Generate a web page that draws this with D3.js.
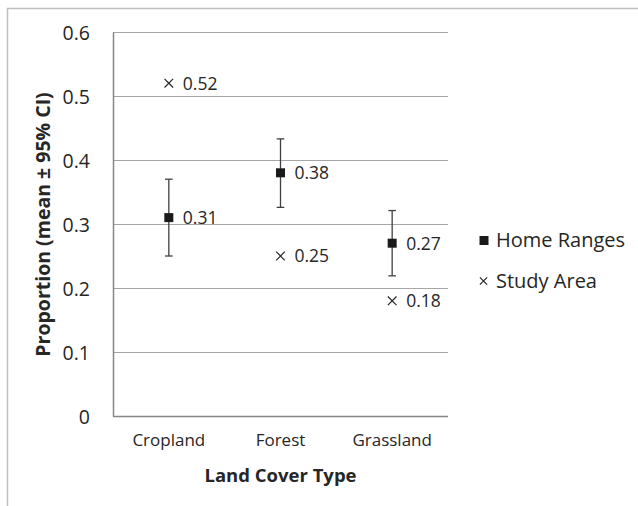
<!DOCTYPE html>
<html><head><meta charset="utf-8">
<script src="https://cdn.jsdelivr.net/npm/d3@7"></script>
<style>body{margin:0;background:#fff}svg{display:block}text{font-family:"Open Sans",Lato,sans-serif}</style>
</head><body>
<svg id="c" width="638" height="506"></svg>
<script>
const categories = ["Cropland", "Forest", "Grassland"];
const homeMean = [0.31, 0.38, 0.27];
const homeLow = [0.25, 0.326, 0.219];
const homeHigh = [0.37, 0.433, 0.321];
const studyArea = [0.52, 0.25, 0.18];
const yTicks = [0, 0.1, 0.2, 0.3, 0.4, 0.5, 0.6];
const legendLabels = ["Home Ranges", "Study Area"];

const svg = d3.select("#c");
const M = {l: 113, r: 448, t: 32, b: 416};
const x = d3.scaleBand().domain(categories).range([M.l, M.r]);
const y = d3.scaleLinear().domain([0, 0.6]).range([M.b, M.t]);
const txt = "#262626";

// outer border
svg.append("rect").attr("x", 7.5).attr("y", 8.5).attr("width", 700).attr("height", 600)
  .attr("fill", "none").attr("stroke", "#bfbfbf").attr("stroke-width", 1.5);

// gridlines
svg.append("g").selectAll("line").data(yTicks.filter(d => d > 0)).join("line")
  .attr("x1", M.l).attr("x2", M.r).attr("y1", d => Math.round(y(d)) + 0.5).attr("y2", d => Math.round(y(d)) + 0.5)
  .attr("stroke", "#a6a6a6").attr("stroke-width", 1.2);

// axes via d3
const yAxis = svg.append("g").attr("transform", `translate(${M.l},0)`)
  .call(d3.axisLeft(y).tickValues(yTicks).tickSize(0).tickPadding(23).tickFormat(d => d === 0 ? "0" : d3.format(".1f")(d)));
yAxis.select(".domain").attr("stroke", "#868686").attr("stroke-width", 1.5);
yAxis.selectAll("text").attr("font-size", 19.5).attr("fill", txt).attr("dy", "0.36em");

const xAxis = svg.append("g").attr("transform", `translate(0,${M.b})`)
  .call(d3.axisBottom(x).tickSize(0).tickPadding(18));
xAxis.select(".domain").attr("stroke", "#868686").attr("stroke-width", 1.5).attr("d", `M${M.l},0.5H${M.r}`);
xAxis.selectAll("text").attr("font-size", 17).attr("fill", txt).attr("dy", "0.71em");

// error bars
const cx = i => x(categories[i]) + x.bandwidth() / 2;
const eb = svg.append("g").attr("stroke", "#404040").attr("stroke-width", 1.3);
homeMean.forEach((m, i) => {
  eb.append("line").attr("x1", cx(i)).attr("x2", cx(i)).attr("y1", y(homeLow[i])).attr("y2", y(homeHigh[i]));
  [homeLow[i], homeHigh[i]].forEach(v => eb.append("line").attr("x1", cx(i) - 3.8).attr("x2", cx(i) + 3.8).attr("y1", y(v)).attr("y2", y(v)));
});

// home range squares
svg.append("g").selectAll("rect").data(homeMean).join("rect")
  .attr("x", (d, i) => cx(i) - 4.5).attr("y", d => y(d) - 4.5).attr("width", 9).attr("height", 9).attr("fill", "#1a1a1a");

// study area crosses
const cross = (g, px, py, s) => g.append("path").attr("d", `M${px - s},${py - s}L${px + s},${py + s}M${px - s},${py + s}L${px + s},${py - s}`)
  .attr("stroke", "#262626").attr("stroke-width", 1.2).attr("fill", "none");
const cg = svg.append("g");
studyArea.forEach((v, i) => cross(cg, cx(i), y(v), 4.3));

// data labels
const lab = svg.append("g").attr("font-size", 17.5).attr("fill", txt);
homeMean.forEach((v, i) => lab.append("text").attr("x", cx(i) + 14).attr("y", y(v)).attr("dy", "0.36em").text(d3.format(".2f")(v)));
studyArea.forEach((v, i) => lab.append("text").attr("x", cx(i) + 14).attr("y", y(v)).attr("dy", "0.36em").text(d3.format(".2f")(v)));

// axis titles
svg.append("text").attr("transform", `translate(50,${(M.t + M.b) / 2 + 0.5}) rotate(-90)`).attr("text-anchor", "middle")
  .attr("font-size", 19.5).attr("font-weight", "bold").attr("fill", txt).text("Proportion (mean ± 95% CI)");
svg.append("text").attr("x", (M.l + M.r) / 2).attr("y", 482).attr("text-anchor", "middle")
  .attr("font-size", 18.5).attr("font-weight", "bold").attr("fill", txt).text("Land Cover Type");

// legend
const lg = svg.append("g").attr("font-size", 20).attr("fill", txt);
lg.append("rect").attr("x", 479.5).attr("y", 236).attr("width", 9).attr("height", 9).attr("fill", "#1a1a1a");
lg.append("text").attr("x", 496).attr("y", 247).text(legendLabels[0]);
cross(lg, 483.5, 281, 3.6);
lg.append("text").attr("x", 496).attr("y", 288).text(legendLabels[1]);
</script>
</body></html>
